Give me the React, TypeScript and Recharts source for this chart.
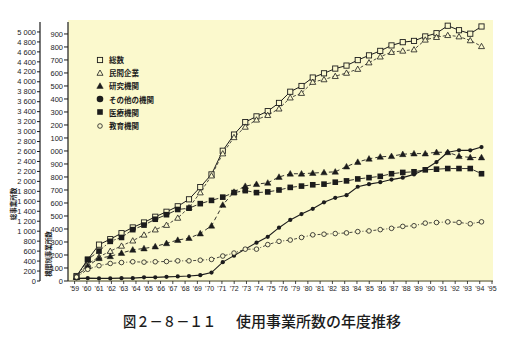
import React from 'react';
import { LineChart, Line, XAxis, YAxis, Legend, Customized } from 'recharts';

const years = [1959,1960,1961,1962,1963,1964,1965,1966,1967,1968,1969,1970,1971,1972,1973,1974,1975,1976,1977,1978,1979,1980,1981,1982,1983,1984,1985,1986,1987,1988,1989,1990,1991,1992,1993,1994,1995];
const tickLabels = ["'59","'60","'61","'62","'63","'64","'65","'66","'67","'68","'69","'70","'71","'72","'73","'74","'75","'76","'79","'80","'81","'82","'83","'84","'85","'86","'87","'88","'89","'90","'91","'92","'93","'94","'95"];
const outerTicks = [0,200,400,600,800,1000,1200,1400,1600,1800,2000,2200,2400,2600,2800,3000,3200,3400,3600,3800,4000,4200,4400,4600,4800,5000];
const innerTicks = [0,100,200,300,400,500,600,700,800,900,1000,1100,1200,1300,1400,1500,1600,1700,1800,1900];

const total = [100,430,730,840,960,1075,1175,1290,1390,1500,1640,1885,2140,2615,2940,3190,3305,3410,3575,3800,3915,4085,4170,4265,4325,4435,4530,4620,4730,4795,4820,4910,4975,5125,5035,4965,5110];
const minkan = [30,130,185,230,270,310,355,395,430,485,565,680,810,980,1105,1185,1240,1275,1325,1410,1445,1530,1550,1575,1600,1630,1680,1725,1760,1770,1780,1855,1875,1890,1880,1850,1805];
const kenkyu = [30,115,175,190,215,240,250,265,290,315,330,365,425,585,685,730,745,755,800,825,825,830,835,840,880,915,940,955,960,975,980,980,990,990,960,950,950];
const sonota = [20,22,20,20,22,22,28,28,32,35,38,45,65,145,195,245,295,340,410,470,515,555,605,640,660,725,745,760,780,795,820,860,915,990,1005,1005,1030];
const iryo = [30,165,230,305,335,395,430,475,510,550,560,595,620,645,680,695,680,685,700,720,730,740,745,760,770,785,795,805,825,835,840,855,860,865,865,865,825];
const kyoiku = [30,90,118,135,142,148,145,148,150,155,155,160,166,192,215,245,245,280,305,315,335,355,360,365,370,380,385,395,405,420,425,445,450,455,450,440,455];

const rows = years.map((y, i) => ({
  i, year: y,
  total: total[i], minkan: minkan[i], kenkyu: kenkyu[i],
  sonota: sonota[i], iryo: iryo[i], kyoiku: kyoiku[i],
}));

const BG = '#fbf9cd';
const INK = '#1c1c1c';
const JP = '"Noto Sans CJK JP", "Noto Sans", sans-serif';
const NUM = '"Liberation Sans", Arial, sans-serif';

type Shape = 'osq' | 'otri' | 'ftri' | 'fcir' | 'fsq' | 'ocir';

const drawShape = (shape: Shape, cx: number, cy: number, key?: any, big?: boolean) => {
  switch (shape) {
    case 'osq':
      return <rect key={key} x={cx - 2.6} y={cy - 2.6} width={5.2} height={5.2} fill={BG} stroke={INK} strokeWidth={0.9} />;
    case 'otri':
      return <polygon key={key} points={`${cx},${cy - 3} ${cx - 3},${cy + 2.3} ${cx + 3},${cy + 2.3}`} fill={BG} stroke={INK} strokeWidth={0.8} />;
    case 'ftri':
      return <polygon key={key} points={`${cx},${cy - 3.2} ${cx - 3.2},${cy + 2.4} ${cx + 3.2},${cy + 2.4}`} fill={INK} stroke={INK} strokeWidth={0.5} />;
    case 'fcir':
      return <circle key={key} cx={cx} cy={cy} r={big ? 3.3 : 2.1} fill={INK} />;
    case 'fsq':
      return <rect key={key} x={cx - 2.8} y={cy - 2.8} width={5.6} height={5.6} fill={INK} />;
    case 'ocir':
      return <circle key={key} cx={cx} cy={cy} r={2.3} fill={BG} stroke={INK} strokeWidth={0.8} />;
  }
  return null;
};

const dotFor = (shape: Shape) => (p: any) => {
  if (p == null || p.cx == null || p.cy == null) return <g key={p?.index} />;
  return drawShape(shape, p.cx, p.cy, `${shape}-${p.index}`);
};

const series = [
  { key: 'total', name: '総数', shape: 'osq' as Shape, axis: 'outer', dash: undefined, width: 1 },
  { key: 'minkan', name: '民間企業', shape: 'otri' as Shape, axis: 'inner', dash: '3 2', width: 0.8 },
  { key: 'kenkyu', name: '研究機関', shape: 'ftri' as Shape, axis: 'inner', dash: '4 3', width: 0.9 },
  { key: 'sonota', name: 'その他の機関', shape: 'fcir' as Shape, axis: 'inner', dash: undefined, width: 1.1 },
  { key: 'iryo', name: '医療機関', shape: 'fsq' as Shape, axis: 'inner', dash: '6 2 1.5 2', width: 0.9 },
  { key: 'kyoiku', name: '教育機関', shape: 'ocir' as Shape, axis: 'inner', dash: '3 2 1 2', width: 0.8 },
];

const fmtOuter = (v: number) => (v >= 1000 ? `${Math.floor(v / 1000)}\u00A0${String(v % 1000).padStart(3, '0')}` : String(v));
const fmtInner = (v: number) => (v === 0 ? '0' : v >= 1000 ? String(v - 1000).padStart(3, '0') : String(v));

const LegendBox = () => (
  <div style={{ fontFamily: JP, fontSize: 7.5, fontWeight: 700, color: INK, lineHeight: '13.2px' }}>
    {series.map((s) => (
      <div key={s.key} style={{ display: 'flex', alignItems: 'center', height: 13.2 }}>
        <svg width={10} height={10} style={{ marginRight: 4 }}>
          {drawShape(s.shape, 5, 5, undefined, true)}
        </svg>
        <span>{s.name}</span>
      </div>
    ))}
  </div>
);

const Texts = () => (
  <g fontFamily={JP} fill={INK}>
    <text transform="translate(16,204) rotate(-90)" textAnchor="middle" fontSize={6.5} fontWeight={700}>総事業所数</text>
    <text transform="translate(51,254) rotate(-90)" textAnchor="middle" fontSize={6.5} fontWeight={700}>機関別事業所数</text>
    <text x={123} y={327} fontSize={15} fontWeight={500} textLength={93} lengthAdjust="spacingAndGlyphs">図２－８－１１</text>
    <text x={236} y={327} fontSize={15} fontWeight={500} textLength={165} lengthAdjust="spacingAndGlyphs">使用事業所数の年度推移</text>
  </g>
);

export default function App() {
  return (
    <div style={{ position: 'absolute', left: 0, top: 0, width: 516, height: 344, background: '#ffffff' }}>
      <div style={{ position: 'absolute', left: 68, top: 20, width: 425, height: 262, background: BG }} />
      <div style={{ position: 'absolute', left: 0, top: 0 }}>
        <LineChart width={516} height={344} data={rows} margin={{ top: 22, right: 23, bottom: 33, left: 8 }}>
          <XAxis xAxisId="yr" type="number" dataKey="i" domain={[-0.756, 37.022]} allowDataOverflow hide />
          <XAxis
            xAxisId="lab"
            type="number"
            dataKey="i"
            scale="linear"
            domain={[-0.537, 34.08]}
            allowDataOverflow
            ticks={tickLabels.map((_, k) => k)}
            interval={0}
            tickFormatter={(v: number) => tickLabels[v] ?? ''}
            tickSize={3}
            tickMargin={2}
            axisLine={{ stroke: INK, strokeWidth: 0.8 }}
            tickLine={{ stroke: INK, strokeWidth: 0.8 }}
            tick={{ fill: INK, fontSize: 7, fontFamily: NUM }}
          />
          <YAxis
            yAxisId="inner"
            type="number"
            domain={[0, 1992]}
            allowDataOverflow
            ticks={innerTicks}
            interval={0}
            tickFormatter={fmtInner}
            width={28}
            tickSize={4}
            tickMargin={1}
            axisLine={{ stroke: INK, strokeWidth: 1.2 }}
            tickLine={{ stroke: INK, strokeWidth: 1 }}
            tick={{ fill: INK, fontSize: 7.5, fontFamily: NUM }}
          />
          <YAxis
            yAxisId="outer"
            type="number"
            domain={[0, 5200]}
            allowDataOverflow
            ticks={outerTicks}
            interval={0}
            tickFormatter={fmtOuter}
            width={32}
            tickSize={3}
            tickMargin={1}
            axisLine={{ stroke: INK, strokeWidth: 1.2 }}
            tickLine={{ stroke: INK, strokeWidth: 1 }}
            tick={{ fill: INK, fontSize: 7.5, fontFamily: NUM }}
          />
          <Legend
            layout="vertical"
            align="center"
            verticalAlign="middle"
            wrapperStyle={{ left: 95, top: 53, width: 110, right: 'auto', bottom: 'auto' }}
            content={() => <LegendBox />}
          />
          {series.map((s) => (
            <Line
              key={s.key}
              xAxisId="yr"
              yAxisId={s.axis}
              dataKey={s.key}
              name={s.name}
              stroke={INK}
              strokeWidth={s.width}
              strokeDasharray={s.dash}
              dot={dotFor(s.shape)}
              activeDot={false}
              isAnimationActive={false}
              type="linear"
            />
          ))}
          <Customized component={Texts} />
        </LineChart>
      </div>
    </div>
  );
}
